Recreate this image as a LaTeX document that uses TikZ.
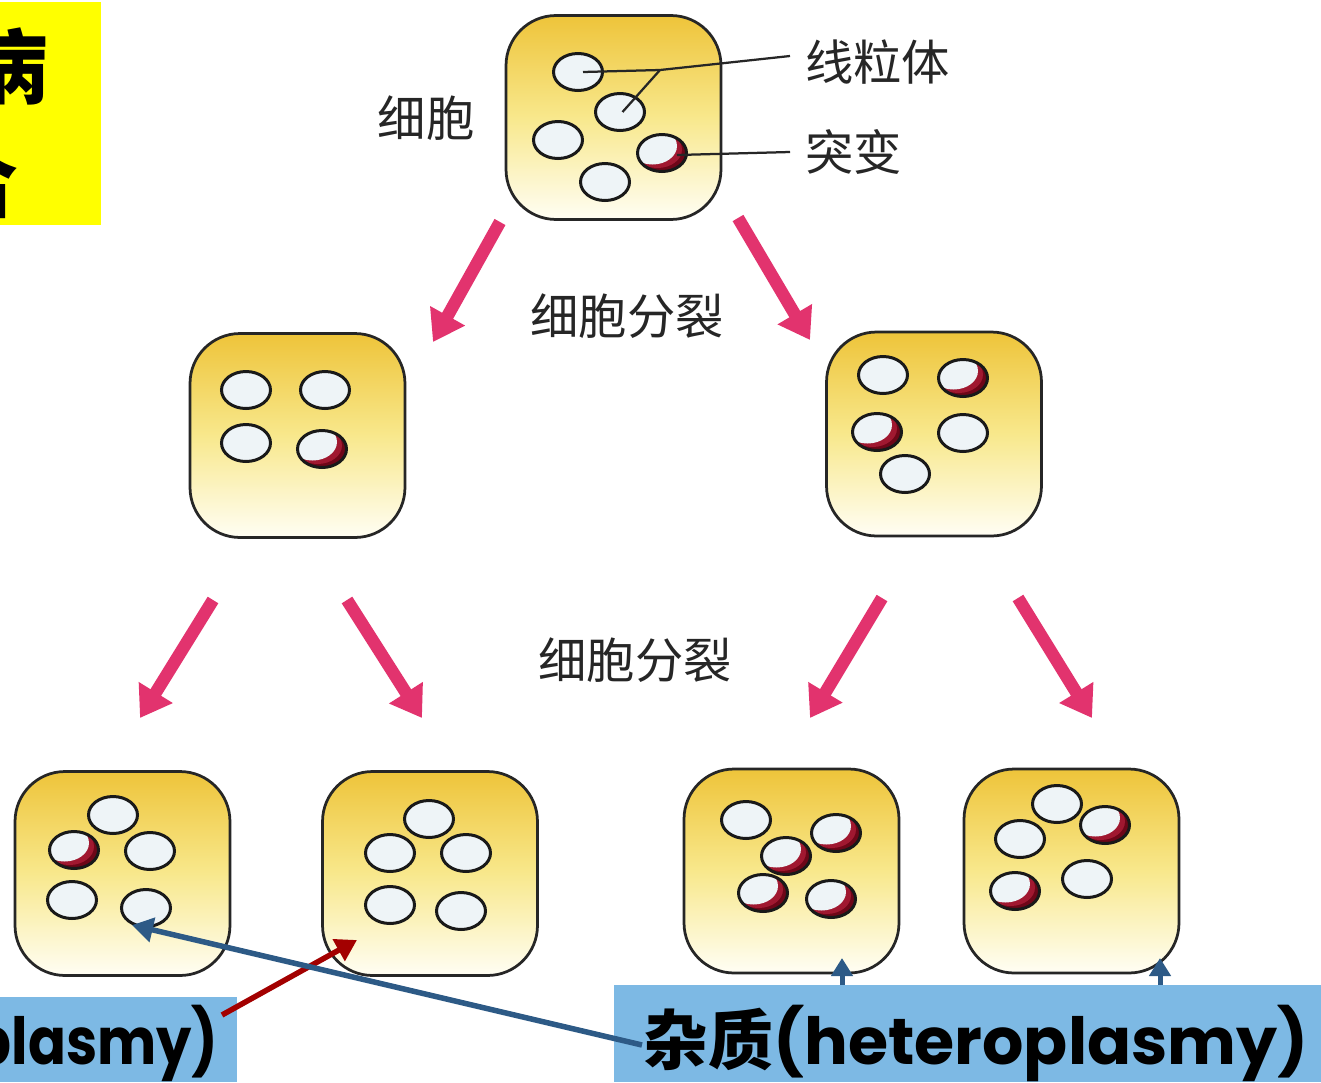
\documentclass[tikz,border=0pt]{standalone}
\usepackage{fontspec}
\newfontfamily\cjk{Noto Sans CJK SC}
\newfontfamily\roundsans{Poppins}
\usetikzlibrary{arrows.meta,shapes.geometric}

\definecolor{cellTop}{HTML}{EEC43A}
\definecolor{cellMid}{HTML}{F8E88C}
\definecolor{cellBot}{HTML}{FFFEF4}
\definecolor{mitoFill}{HTML}{EEF4F7}
\definecolor{mutRed}{HTML}{6E0618}
\definecolor{mutMid}{HTML}{A01830}
\definecolor{divPink}{HTML}{E2336E}
\definecolor{noteBlue}{HTML}{7DB9E4}
\definecolor{arrBlue}{HTML}{2D5A86}
\definecolor{arrRed}{HTML}{A30000}
\definecolor{hiYellow}{HTML}{FFFF00}

\newcommand{\squeezed}[1]{\scalebox{0.86}[1]{#1}}

\tikzset{
  cell/.style={draw=black!85, line width=0.055cm, rounded corners=1cm,
    minimum width=4.3cm, minimum height=4.08cm, inner sep=0pt,
    top color=cellTop, bottom color=cellBot, middle color=cellMid},
  mito/.style={ellipse, draw=black!90, line width=0.06cm, fill=mitoFill,
    minimum width=0.98cm, minimum height=0.74cm, inner sep=0pt},
  mutant/.style={mito, path picture={
      \fill[mutRed] (path picture bounding box.center) ellipse (0.6cm and 0.45cm);
      \fill[mutMid] ([xshift=-0.09cm,yshift=0.07cm]path picture bounding box.center) ellipse (0.49cm and 0.37cm);
      \fill[mitoFill] ([xshift=-0.19cm,yshift=0.14cm]path picture bounding box.center) ellipse (0.49cm and 0.37cm);}},
  lbl/.style={font=\cjk\fontsize{27.5}{27.5}\selectfont, text=black!85, inner sep=0pt},
  leader/.style={draw=black!85, line width=0.045cm},
  divide/.style={draw=divPink, line width=0.25cm, -{Triangle[width=0.76cm,length=0.6cm]}},
  pointer/.style={line width=0.11cm, -{Triangle[width=0.48cm,length=0.42cm]}},
  upmark/.style={draw=arrBlue, line width=0.1cm, -{Triangle[width=0.42cm,length=0.36cm]}},
  bigtext/.style={font=\roundsans\bfseries\fontsize{37}{37}\selectfont, inner sep=0pt},
}

\begin{document}
\begin{tikzpicture}[x=0.02cm,y=-0.02cm]
\useasboundingbox (0,0) rectangle (1321,1082);
\clip (0,0) rectangle (1321,1082);
\fill[white] (0,0) rectangle (1321,1082);

% highlighted heading, cut by the left edge
\fill[hiYellow] (-10,2) rectangle (101,225);
\node[font=\cjk\bfseries\fontsize{46}{46}\selectfont, inner sep=0pt] (headA) at (8,66) {病};
\node[font=\cjk\bfseries\fontsize{46}{46}\selectfont, inner sep=0pt] (headB) at (-22,180) {合};

% parent cell
\node[cell] (c0) at (613.5,117.5) {};
\node[mito]   (m01) at (578,72)  {};
\node[mito]   (m02) at (620,112) {};
\node[mito]   (m03) at (558,140) {};
\node[mutant] (m04) at (662,153) {};
\node[mito]   (m05) at (605,182) {};

\node[lbl] (lblCell) at (426,118) {细胞};
\node[lbl, anchor=west] (lblMito) at (805,62) {线粒体};
\node[lbl, anchor=west] (lblMut) at (805,152) {突变};

\coordinate (join) at (660,70);
\draw[leader] ([xshift=0.1cm]m01.center) -- (join) -- ([xshift=-0.3cm,yshift=0.12cm]lblMito.west);
\draw[leader] ([xshift=0.05cm]m02.center) -- (join);
\draw[leader] ([xshift=0.3cm,yshift=-0.04cm]m04.center) -- ([xshift=-0.3cm]lblMut.west);

% first division
\coordinate (d1a) at (500,222); \coordinate (d1b) at (433,342);
\coordinate (d2a) at (738,218); \coordinate (d2b) at (810,340);
\draw[divide] (d1a) -- (d1b);
\draw[divide] (d2a) -- (d2b);
\node[lbl] (lblDiv1) at (627,316) {细胞分裂};

% daughter cells
\node[cell] (c1l) at (297.5,435.5) {};
\node[mito]   (l1) at (246,390) {};
\node[mito]   (l2) at (325,390) {};
\node[mito]   (l3) at (246,443) {};
\node[mutant] (l4) at (322,449) {};

\node[cell] (c1r) at (934,434) {};
\node[mito]   (r1) at (883,375) {};
\node[mutant] (r2) at (963,378) {};
\node[mutant] (r3) at (877,432) {};
\node[mito]   (r4) at (963,433) {};
\node[mito]   (r5) at (905,474) {};

% second division
\coordinate (e1a) at (213,600);  \coordinate (e1b) at (140,718);
\coordinate (e2a) at (347,600);  \coordinate (e2b) at (422,718);
\coordinate (e3a) at (882,598);  \coordinate (e3b) at (810,718);
\coordinate (e4a) at (1018,598); \coordinate (e4b) at (1092,718);
\draw[divide] (e1a) -- (e1b);
\draw[divide] (e2a) -- (e2b);
\draw[divide] (e3a) -- (e3b);
\draw[divide] (e4a) -- (e4b);
\node[lbl] (lblDiv2) at (635,660) {细胞分裂};

% granddaughter cells
\node[cell] (c2a) at (122.5,873.5) {};
\node[mito]   (a1) at (113,815) {};
\node[mutant] (a2) at (74,850)  {};
\node[mito]   (a3) at (150,851) {};
\node[mito]   (a4) at (72,900)  {};
\node[mito]   (a5) at (146,908) {};

\node[cell] (c2b) at (430,873.5) {};
\node[mito] (b1) at (429,819) {};
\node[mito] (b2) at (390,853) {};
\node[mito] (b3) at (466,853) {};
\node[mito] (b4) at (390,905) {};
\node[mito] (b5) at (461,911) {};

\node[cell] (c2c) at (791.5,871) {};
\node[mito]   (g1) at (746,820) {};
\node[mutant] (g2) at (836,833) {};
\node[mutant] (g3) at (786,856) {};
\node[mutant] (g4) at (763,893) {};
\node[mutant] (g5) at (831,899) {};

\node[cell] (c2d) at (1071.5,871) {};
\node[mito]   (h1) at (1057,804) {};
\node[mutant] (h2) at (1105,825) {};
\node[mito]   (h3) at (1020,839) {};
\node[mito]   (h4) at (1087,879) {};
\node[mutant] (h5) at (1015,891) {};

% labels below
\node[fill=noteBlue, inner sep=0pt, minimum width=4.94cm, minimum height=1.7cm] (homoBox) at (113.5,1039.5) {};
\node[bigtext, anchor=base east] (homoTxt) at (219,1064) {\squeezed{plasmy)}};
\node[fill=noteBlue, inner sep=0pt, minimum width=14.14cm, minimum height=1.94cm] (heteroBox) at (967.5,1033.5) {};
\node[bigtext, anchor=base west] (heteroTxt) at (643,1064) {{\cjk\bfseries 杂质}(heteroplasmy)};

% pointers from the labels into the cells
\coordinate (redStart) at (222,1015);
\coordinate (redTip) at (357,940);
\draw[pointer, draw=arrRed] (redStart) -- (redTip);
\coordinate (blueStart) at (642,1045);
\coordinate (blueTip) at (132,925);
\draw[pointer, draw=arrBlue] (blueStart) -- (blueTip);
\coordinate (tipC) at (842,958);
\coordinate (tipD) at (1160,958);
\draw[upmark] (heteroBox.north -| tipC) -- (tipC);
\draw[upmark] (heteroBox.north -| tipD) -- (tipD);
\end{tikzpicture}
\end{document}
